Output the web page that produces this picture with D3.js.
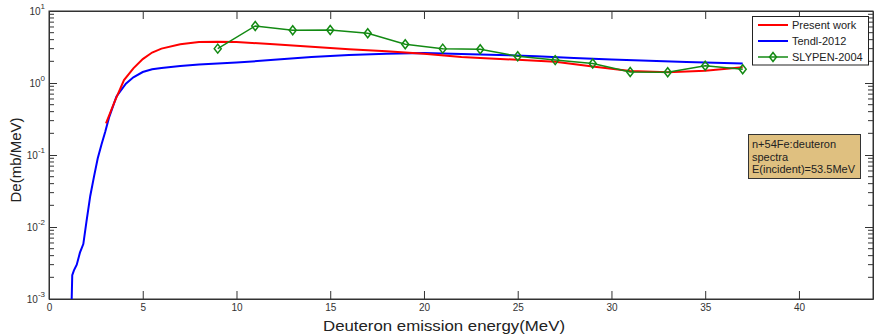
<!DOCTYPE html>
<html>
<head>
<meta charset="utf-8">
<script src="https://cdn.jsdelivr.net/npm/d3@7"></script>
<style>
  body { margin: 0; background: #fff; }
  svg { font-family: Arial, "Liberation Sans", sans-serif; }
</style>
</head>
<body>
<svg id="chart" width="874" height="336"></svg>
<script>
// present work (red)
const presentE = [3.04, 3.5, 4.0, 4.5, 5.0, 5.5, 6, 7, 8, 9, 10, 12, 14, 16, 18, 20, 22, 23, 25, 27, 29, 31, 33, 35, 37];
const presentV = [0.275, 0.55, 1.1, 1.6, 2.15, 2.65, 3.0, 3.45, 3.7, 3.75, 3.7, 3.45, 3.2, 2.95, 2.75, 2.55, 2.3, 2.22, 2.1, 1.97, 1.7, 1.47, 1.41, 1.48, 1.65];

// Tendl-2012 (blue)
const tendlE = [1.21, 1.24, 1.33, 1.48, 1.65, 1.83, 2.0, 2.2, 2.4, 2.6, 2.8, 3.0, 3.2, 3.6, 4.1, 4.5, 5.0, 5.5, 6, 7, 8, 10, 12, 14, 16, 18, 20, 22, 24, 26, 28, 30, 32, 34, 36, 37];
const tendlV = [0.001, 0.00215, 0.0025, 0.003, 0.0044, 0.0058, 0.012, 0.027, 0.05, 0.09, 0.14, 0.21, 0.33, 0.65, 0.98, 1.2, 1.42, 1.55, 1.62, 1.72, 1.8, 1.92, 2.1, 2.3, 2.45, 2.55, 2.6, 2.52, 2.45, 2.35, 2.22, 2.12, 2.03, 1.96, 1.9, 1.87];

// SLYPEN-2004 (green, diamonds)
const slypenE = [9, 11, 13, 15, 17, 19, 21, 23, 25, 27, 29, 31, 33, 35, 37];
const slypenV = [3.0, 6.2, 5.4, 5.45, 4.9, 3.45, 3.0, 2.95, 2.35, 2.08, 1.87, 1.42, 1.41, 1.74, 1.55];

const xTicks = [0, 5, 10, 15, 20, 25, 30, 35, 40];
const yDecades = [-3, -2, -1, 0, 1];

const svg = d3.select('#chart');
const margin = { left: 49, right: 1, top: 11, bottom: 37 };
const width = 874, height = 336;
const axisColor = '#333';

const xScale = d3.scaleLinear().domain([0, 43.95]).range([margin.left, width - margin.right]);
const yScale = d3.scaleLog().domain([1e-3, 10]).range([height - margin.bottom, margin.top]);

const x0 = margin.left, x1 = width - margin.right;
const y0 = height - margin.bottom, y1 = margin.top;

// axes
const styleAxis = g => {
  g.selectAll('path').attr('stroke', axisColor);
  g.selectAll('line').attr('stroke', axisColor);
  g.selectAll('text').attr('fill', axisColor).style('font-size', '10px').style('font-family', 'Arial, "Liberation Sans", sans-serif');
};

svg.append('g').attr('transform', `translate(0,${y0})`)
  .call(d3.axisBottom(xScale).tickValues(xTicks).tickSizeInner(-8).tickSizeOuter(0).tickPadding(5).tickFormat(d3.format('d')))
  .call(styleAxis);
svg.append('g').attr('transform', `translate(0,${y1})`)
  .call(d3.axisTop(xScale).tickValues(xTicks).tickSizeInner(-8).tickSizeOuter(0).tickFormat(''))
  .call(styleAxis);

const majors = yDecades.map(p => Math.pow(10, p));
const minors = [];
yDecades.slice(0, -1).forEach(p => { for (let k = 2; k <= 9; k++) minors.push(k * Math.pow(10, p)); });

svg.append('g').attr('transform', `translate(${x0},0)`)
  .call(d3.axisLeft(yScale).tickValues(majors).tickSizeInner(-8).tickSizeOuter(0).tickFormat(''))
  .call(styleAxis);
svg.append('g').attr('transform', `translate(${x1},0)`)
  .call(d3.axisRight(yScale).tickValues(majors).tickSizeInner(-8).tickSizeOuter(0).tickFormat(''))
  .call(styleAxis);

// minor log ticks
[[x0, 5], [x1, -5]].forEach(([xx, len]) => {
  svg.append('g').selectAll('line').data(minors).enter().append('line')
    .attr('x1', xx).attr('x2', xx + len)
    .attr('y1', d => yScale(d)).attr('y2', d => yScale(d))
    .attr('stroke', axisColor);
});

// y tick labels 10^n
const ylab = svg.append('g').selectAll('text').data(yDecades).enter().append('text')
  .attr('x', 45).attr('y', d => yScale(Math.pow(10, d)) + 4)
  .attr('text-anchor', 'end').attr('fill', axisColor).style('font-size', '10px');
ylab.append('tspan').text('10');
ylab.append('tspan').attr('dy', -6).style('font-size', '8px').text(d => d);

// box lines
svg.append('rect').attr('x', x0).attr('y', y1).attr('width', x1 - x0).attr('height', y0 - y1)
  .attr('fill', 'none').attr('stroke', axisColor).attr('stroke-width', 1);

// curves
const line = d3.line().x(d => xScale(d[0])).y(d => yScale(d[1]));
const plot = svg.append('g');

plot.append('path').datum(tendlE.map((e, i) => [e, tendlV[i]]))
  .attr('d', line).attr('fill', 'none').attr('stroke', '#0000ff').attr('stroke-width', 2);
plot.append('path').datum(presentE.map((e, i) => [e, presentV[i]]))
  .attr('d', line).attr('fill', 'none').attr('stroke', '#ff0000').attr('stroke-width', 2);

const green = '#138a13';
const slypen = slypenE.map((e, i) => [e, slypenV[i]]);
plot.append('path').datum(slypen)
  .attr('d', line).attr('fill', 'none').attr('stroke', green).attr('stroke-width', 1.5);

const diamond = (cx, cy) => `M${cx},${cy - 4.5}L${cx + 3.5},${cy}L${cx},${cy + 4.5}L${cx - 3.5},${cy}Z`;
plot.selectAll('.dia').data(slypen).enter().append('path')
  .attr('class', 'dia')
  .attr('d', d => diamond(xScale(d[0]), yScale(d[1])))
  .attr('fill', 'none').attr('stroke', green).attr('stroke-width', 1.5);

// legend
const legendItems = [
  { name: 'Present work', color: '#ff0000', marker: false },
  { name: 'Tendl-2012', color: '#0000ff', marker: false },
  { name: 'SLYPEN-2004', color: green, marker: true }
];
const lg = svg.append('g');
lg.append('rect').attr('x', 752.5).attr('y', 16.5).attr('width', 116).attr('height', 48.5)
  .attr('fill', '#fff').attr('stroke', '#222').attr('stroke-width', 1);
legendItems.forEach((d, i) => {
  const yy = 25 + i * 16;
  lg.append('line').attr('x1', 758).attr('x2', 788).attr('y1', yy).attr('y2', yy)
    .attr('stroke', d.color).attr('stroke-width', d.marker ? 1.5 : 2);
  if (d.marker) {
    lg.append('path').attr('d', diamond(773, yy)).attr('fill', 'none').attr('stroke', d.color).attr('stroke-width', 1.5);
  }
  lg.append('text').attr('x', 792).attr('y', yy + 4).attr('fill', '#222')
    .style('font-size', '11px').text(d.name);
});

// annotation
const note = ['n+54Fe:deuteron', 'spectra', 'E(incident)=53.5MeV'];
const ng = svg.append('g');
ng.append('rect').attr('x', 748.5).attr('y', 134.5).attr('width', 112).attr('height', 44)
  .attr('fill', '#dfc080').attr('stroke', '#333').attr('stroke-width', 1);
ng.selectAll('text').data(note).enter().append('text')
  .attr('x', 752).attr('y', (d, i) => 148 + i * 12.5).attr('fill', '#222')
  .style('font-size', '11px').text(d => d);

// axis titles
svg.append('text').attr('x', 444).attr('y', 331).attr('text-anchor', 'middle')
  .attr('fill', '#222').style('font-size', '15px')
  .attr('textLength', 242).attr('lengthAdjust', 'spacingAndGlyphs')
  .text('Deuteron emission energy(MeV)');
svg.append('text').attr('transform', 'translate(21,160) rotate(-90)').attr('text-anchor', 'middle')
  .attr('fill', '#222').style('font-size', '15px').text('De(mb/MeV)');
</script>
</body>
</html>
